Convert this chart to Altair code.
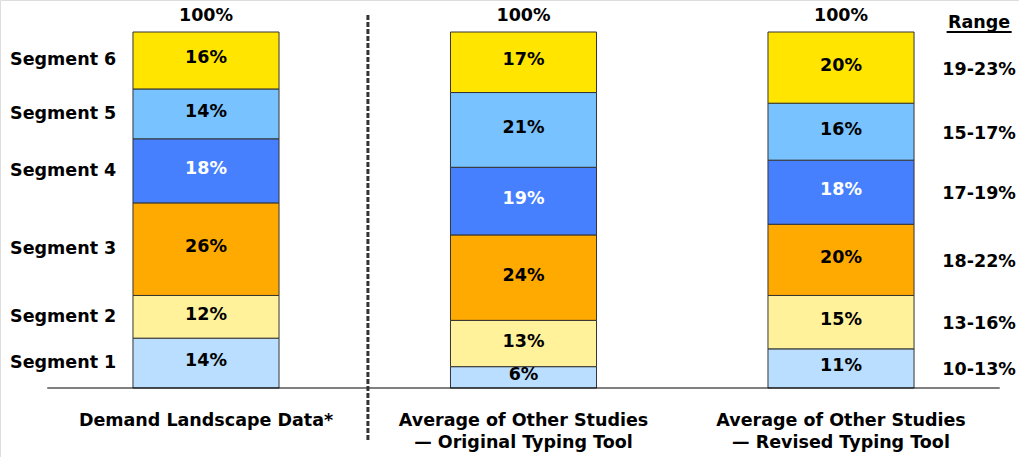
import altair as alt
import pandas as pd

segments = ["Segment 1", "Segment 2", "Segment 3", "Segment 4", "Segment 5", "Segment 6"]
colors = ["#B9DEFF", "#FFF29B", "#FFAA00", "#4680FF", "#78C2FF", "#FFE500"]
text_colors = ["black", "black", "black", "white", "black", "black"]
categories = [
    "Demand Landscape Data*",
    "Average of Other Studies\n\u2014 Original Typing Tool",
    "Average of Other Studies\n\u2014 Revised Typing Tool",
]
bar_values = [
    [14, 12, 26, 18, 14, 16],
    [6, 13, 24, 19, 21, 17],
    [11, 15, 20, 18, 16, 20],
]
ranges = ["10-13%", "13-16%", "18-22%", "17-19%", "15-17%", "19-23%"]
totals = [100, 100, 100]

FONT = "DejaVu Sans"
FS = 17.5
HALF = 0.23

rows = []
for i, vals in enumerate(bar_values):
    cum = 0
    for j, v in enumerate(vals):
        rows.append({
            "pos": i, "x0": i - HALF, "x1": i + HALF,
            "segment": segments[j], "value": v,
            "y0": cum, "y1": cum + v, "mid": cum + v / 2,
            "label": f"{v}%", "tcolor": text_colors[j],
        })
        cum += v
df = pd.DataFrame(rows)

seg_df = df[df.pos == 0].copy()
seg_df["lx"] = -0.617
rng_df = df[df.pos == 2].copy()
rng_df["rlabel"] = ranges
rng_df["rx"] = 2.435

tot_df = pd.DataFrame({"pos": [0, 1, 2], "total": totals, "label": [f"{t}%" for t in totals], "cat": categories})

xs = alt.Scale(domain=[-0.6488, 2.5606], nice=False, zero=False)
ys = alt.Scale(domain=[-19.38, 108.99], nice=False, zero=False)

def X(f):
    return alt.X(f, scale=xs, axis=None)

def Y(f):
    return alt.Y(f, scale=ys, axis=None)

base = alt.Chart(df)

bars = base.mark_bar(stroke="#333333", strokeWidth=1).encode(
    x=X("x0:Q"), x2="x1:Q", y=Y("y0:Q"), y2="y1:Q",
    color=alt.Color("segment:N", scale=alt.Scale(domain=segments, range=colors), legend=None),
)

vals = base.mark_text(font=FONT, fontSize=FS, fontWeight="bold", dy=-2).encode(
    x=X("pos:Q"), y=Y("mid:Q"), text="label:N",
    color=alt.Color("tcolor:N", scale=None),
)

seglabels = alt.Chart(seg_df).mark_text(font=FONT, fontSize=FS, fontWeight="bold", align="left", color="black").encode(
    x=X("lx:Q"), y=Y("mid:Q"), text="segment:N",
)

rnglabels = alt.Chart(rng_df).mark_text(font=FONT, fontSize=FS, fontWeight="bold", align="center", color="black", dy=2).encode(
    x=X("rx:Q"), y=Y("mid:Q"), text="rlabel:N",
)

tot = alt.Chart(tot_df).mark_text(font=FONT, fontSize=FS, fontWeight="bold", dy=-16, color="black").encode(
    x=X("pos:Q"), y=Y("total:Q"), text="label:N",
)

cats = alt.Chart(tot_df).mark_text(font=FONT, fontSize=FS, fontWeight="bold", baseline="top", dy=24,
                                   lineBreak="\n", lineHeight=22, color="black").encode(
    x=X("pos:Q"), y=alt.Y("zero:Q", scale=ys, axis=None), text="cat:N",
).transform_calculate(zero="0")

hdr_df = pd.DataFrame({"x": [2.435], "xa": [2.435 - 0.1024], "xb": [2.435 + 0.1024], "y": [100], "t": ["Range"]})
hdr = alt.Chart(hdr_df).mark_text(font=FONT, fontSize=FS, fontWeight="bold", baseline="alphabetic", dy=-4, color="black").encode(
    x=X("x:Q"), y=Y("y:Q"), text="t:N",
)
underline = alt.Chart(hdr_df).mark_rule(color="black", strokeWidth=2).encode(
    x=X("xa:Q"), x2="xb:Q", y=Y("y:Q"),
)

base_df = pd.DataFrame({"a": [-0.5], "b": [2.5], "y": [0]})
baseline = alt.Chart(base_df).mark_rule(color="black", strokeWidth=1).encode(
    x=X("a:Q"), x2="b:Q", y=Y("y:Q"),
)

sep_df = pd.DataFrame({"x": [0.51], "ya": [104.8], "yb": [-15.2]})
sep = alt.Chart(sep_df).mark_rule(color="#333333", strokeWidth=3, strokeDash=[5, 2]).encode(
    x=X("x:Q"), y=Y("ya:Q"), y2="yb:Q",
)

chart = alt.layer(bars, baseline, sep, vals, seglabels, rnglabels, tot, cats, hdr, underline).properties(
    width=1019, height=457, padding=0, autosize=alt.AutoSizeParams(type="none"),
).configure_view(stroke=None).configure(background="white")

chart.save("out.html", embed_options={"renderer": "svg", "actions": False})
